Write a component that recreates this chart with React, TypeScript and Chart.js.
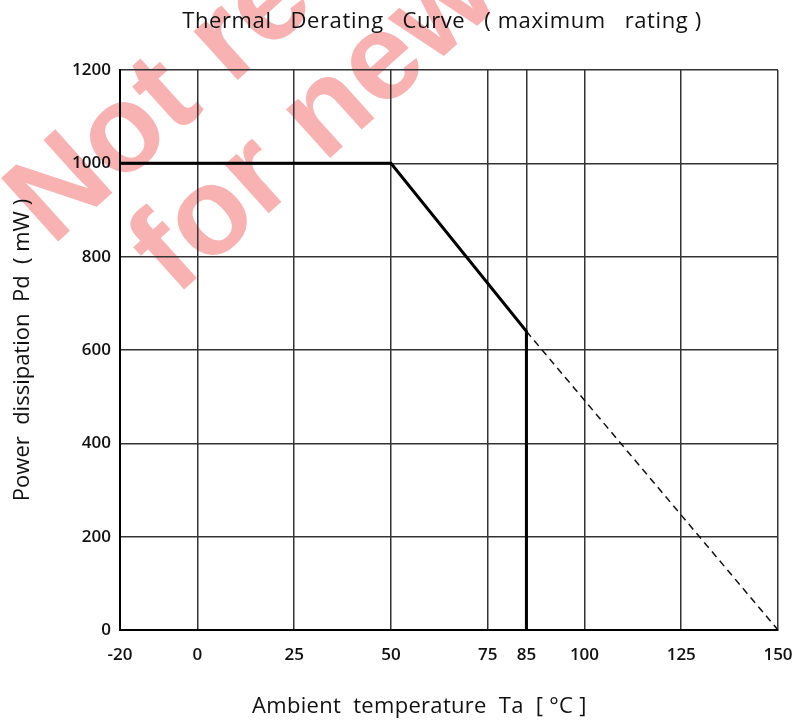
import React, { useEffect, useRef } from "react";
import { Chart, registerables } from "chart.js";

Chart.register(...registerables);

const xTickValues = [-20, 0, 25, 50, 75, 85, 100, 125, 150];
const yTickValues = [0, 200, 400, 600, 800, 1000, 1200];
const deratingTemp = [-20, 50, 85, 85];
const deratingPower = [1000, 1000, 640, 0];
const extrapTemp = [85, 150];
const extrapPower = [640, 0];

const chartTitle = "Thermal   Derating   Curve   ( maximum   rating )";
const xTitle = "Ambient  temperature  Ta  [ °C ]";
const yTitle = "Power  dissipation  Pd  ( mW )";
const watermarkLines = ["Not recommended", "for new designs"];

const FONT = "'Open Sans', 'DejaVu Sans', sans-serif";

const watermarkPlugin = {
  id: "watermark",
  beforeDraw(chart: any) {
    const ctx = chart.ctx;
    ctx.save();
    ctx.fillStyle = "#f9b2b2";
    ctx.font = `bold 124px 'Liberation Sans', Arial, sans-serif`;
    ctx.translate(52, 247);
    ctx.rotate((-42 * Math.PI) / 180);
    ctx.textBaseline = "alphabetic";
    ctx.textAlign = "left";
    ctx.fillText(watermarkLines[0], 0, 0);
    ctx.fillText(watermarkLines[1], 58, 120);
    ctx.restore();
  },
};

const titlesPlugin = {
  id: "titles",
  afterDraw(chart: any) {
    const ctx = chart.ctx;
    const area = chart.chartArea;
    ctx.save();
    ctx.fillStyle = "#111";
    ctx.textAlign = "center";
    ctx.textBaseline = "middle";
    ctx.font = `22px ${FONT}`;
    try {
      (ctx as any).letterSpacing = "0.6px";
    } catch (e) {}
    ctx.fillText(chartTitle, (area.left + area.right) / 2 - 7, 22);
    try {
      (ctx as any).letterSpacing = "0.3px";
    } catch (e) {}
    ctx.fillText(xTitle, area.left + (area.right - area.left) * 0.455, 707);
    ctx.restore();
  },
};

export default function App() {
  const canvasRef = useRef<HTMLCanvasElement | null>(null);

  useEffect(() => {
    if (!canvasRef.current) return;
    const chart = new Chart(canvasRef.current, {
      type: "scatter",
      data: {
        datasets: [
          {
            label: "Derating",
            data: deratingTemp.map((t, i) => ({ x: t, y: deratingPower[i] })),
            showLine: true,
            borderColor: "#000",
            borderWidth: 3,
            pointRadius: 0,
            fill: false,
          },
          {
            label: "Extrapolation",
            data: extrapTemp.map((t, i) => ({ x: t, y: extrapPower[i] })),
            showLine: true,
            borderColor: "#111",
            borderWidth: 1.5,
            borderDash: [7, 5],
            pointRadius: 0,
            fill: false,
          },
        ],
      },
      plugins: [watermarkPlugin, titlesPlugin],
      options: {
        animation: false,
        responsive: false,
        devicePixelRatio: 1,
        layout: { padding: { left: 0, right: 0, top: 70, bottom: 0 } },
        plugins: {
          legend: { display: false },
          tooltip: { enabled: false },
          title: { display: false },
        },
        scales: {
          x: {
            type: "linear",
            min: -20,
            max: 150,
            afterBuildTicks: (scale: any) => {
              scale.ticks = xTickValues.map((v) => ({ value: v }));
            },
            afterFit: (scale: any) => {
              scale.height = 91;
              scale.paddingLeft = 0;
              scale.paddingRight = 19;
            },
            ticks: {
              color: "#111",
              font: { family: FONT, size: 17, weight: "600" },
              padding: 15,
              maxRotation: 0,
              autoSkip: false,
              callback: (v: any) => String(v),
            },
            grid: { color: "#333", lineWidth: 1.5, drawTicks: false },
            border: { color: "#000", width: 2 },
            title: { display: false, text: xTitle },
          },
          y: {
            type: "linear",
            min: 0,
            max: 1200,
            afterBuildTicks: (scale: any) => {
              scale.ticks = yTickValues.map((v) => ({ value: v }));
            },
            afterFit: (scale: any) => {
              scale.width = 120;
              scale.paddingTop = 0;
              scale.paddingBottom = 0;
            },
            ticks: {
              color: "#111",
              font: { family: FONT, size: 17, weight: "600" },
              padding: 9,
              callback: (v: any) => String(v),
            },
            grid: { color: "#333", lineWidth: 1.5, drawTicks: false },
            border: { color: "#000", width: 2 },
            title: {
              display: true,
              text: yTitle,
              color: "#111",
              font: { family: FONT, size: 22, weight: "normal" },
              padding: { top: 10, bottom: 0 },
            },
          },
        },
      },
    });
    return () => chart.destroy();
  }, []);

  return (
    <div style={{ position: "fixed", left: 0, top: 0, width: 797, height: 721, background: "#fff" }}>
      <canvas ref={canvasRef} width={797} height={721} style={{ display: "block", width: 797, height: 721 }} />
    </div>
  );
}
